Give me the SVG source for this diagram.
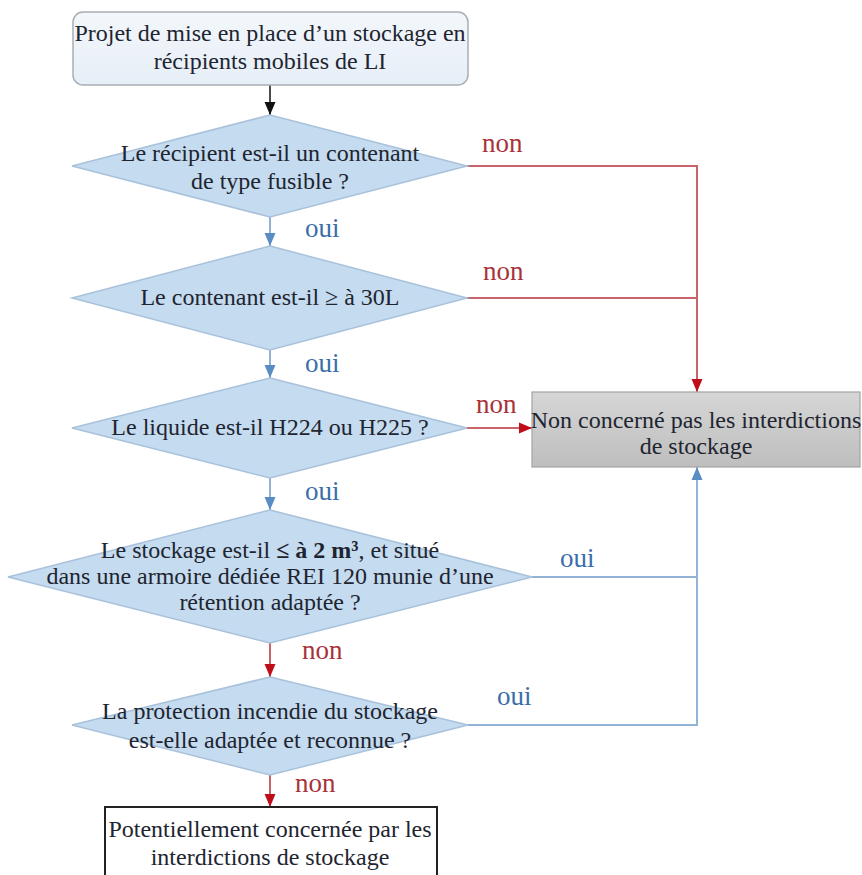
<svg xmlns="http://www.w3.org/2000/svg" width="862" height="875" viewBox="0 0 862 875">
<style>
  .t { font-family: "Liberation Serif", "Times New Roman", serif; font-size: 24px; fill: #1e2530; text-anchor: middle; }
  .lbl { font-family: "Liberation Serif", "Times New Roman", serif; font-size: 27px; }
  .non { fill: #a8323a; }
  .oui { fill: #3a6ea8; }
  .dia { fill: #c5dbef; stroke: #a8c2dc; stroke-width: 1.5; }
  .red { fill: none; stroke: #c9646a; stroke-width: 2; }
  .blue { fill: none; stroke: #92b3d6; stroke-width: 2; }
  .blk { fill: none; stroke: #111; stroke-width: 1.5; }
</style>
<defs>
  <linearGradient id="gTop" x1="0" y1="0" x2="0" y2="1">
    <stop offset="0" stop-color="#f3f7fb"/>
    <stop offset="1" stop-color="#e6eef7"/>
  </linearGradient>
  <linearGradient id="gGray" x1="0" y1="0" x2="0" y2="1">
    <stop offset="0" stop-color="#d6d6d6"/>
    <stop offset="1" stop-color="#bebebe"/>
  </linearGradient>
  <marker id="aBlk" markerUnits="userSpaceOnUse" markerWidth="14" markerHeight="14" viewBox="0 0 14 14" refX="13" refY="7" orient="auto">
    <path d="M0,1.5 L13,7 L0,12.5 Z" fill="#111"/>
  </marker>
  <marker id="aRed" markerUnits="userSpaceOnUse" markerWidth="14" markerHeight="14" viewBox="0 0 14 14" refX="13" refY="7" orient="auto">
    <path d="M0,1.5 L13,7 L0,12.5 Z" fill="#c00d1a"/>
  </marker>
  <marker id="aBlue" markerUnits="userSpaceOnUse" markerWidth="14" markerHeight="14" viewBox="0 0 14 14" refX="13" refY="7" orient="auto">
    <path d="M0,1.5 L13,7 L0,12.5 Z" fill="#5a8cc4"/>
  </marker>
</defs>

<g id="connectors">
  <line class="blk" x1="270" y1="85" x2="270" y2="115" marker-end="url(#aBlk)"/>
  <line class="blue" x1="270" y1="217" x2="270" y2="246" marker-end="url(#aBlue)"/>
  <line class="blue" x1="270" y1="350" x2="270" y2="378" marker-end="url(#aBlue)"/>
  <line class="blue" x1="270" y1="478" x2="270" y2="510" marker-end="url(#aBlue)"/>
  <line class="red" x1="270" y1="643" x2="270" y2="677" marker-end="url(#aRed)"/>
  <line class="red" x1="270" y1="775" x2="270" y2="807" marker-end="url(#aRed)"/>
  <polyline class="red" points="467,166 697,166 697,392" marker-end="url(#aRed)"/>
  <polyline class="red" points="467,298 697,298"/>
  <line class="red" x1="467" y1="428" x2="532" y2="428" marker-end="url(#aRed)"/>
  <polyline class="blue" points="532,577 697,577 697,467" marker-end="url(#aBlue)"/>
  <polyline class="blue" points="468,725 697,725 697,577"/>
  <text class="lbl non" x="482" y="152">non</text>
  <text class="lbl non" x="483" y="280">non</text>
  <text class="lbl non" x="476" y="413">non</text>
  <text class="lbl oui" x="305" y="237">oui</text>
  <text class="lbl oui" x="305" y="372">oui</text>
  <text class="lbl oui" x="305" y="500">oui</text>
  <text class="lbl non" x="302" y="659">non</text>
  <text class="lbl non" x="295" y="792">non</text>
  <text class="lbl oui" x="560" y="567">oui</text>
  <text class="lbl oui" x="497" y="705">oui</text>
</g>

<g id="start">
  <rect x="73" y="12" width="395" height="73" rx="10" fill="url(#gTop)" stroke="#a9aeb4" stroke-width="1.5"/>
  <text class="t" x="270" y="41">Projet de mise en place d’un stockage en</text>
  <text class="t" x="270" y="69">récipients mobiles de LI</text>
</g>

<g id="q1">
  <polygon class="dia" points="270,115 467,166 270,217 72,166"/>
  <text class="t" x="270" y="161">Le récipient est-il un contenant</text>
  <text class="t" x="270" y="189">de type fusible ?</text>
</g>

<g id="q2">
  <polygon class="dia" points="270,246 467,298 270,350 72,298"/>
  <text class="t" x="270" y="305">Le contenant est-il ≥ à 30L</text>
</g>

<g id="q3">
  <polygon class="dia" points="270,378 467,428 270,478 72,428"/>
  <text class="t" x="270" y="435">Le liquide est-il H224 ou H225 ?</text>
</g>

<g id="q4">
  <polygon class="dia" points="270,510 532,577 270,643 8,577"/>
  <text class="t" x="270" y="558">Le stockage est-il <tspan font-weight="bold">≤ à 2 m³</tspan>, et situé</text>
  <text class="t" x="270" y="584">dans une armoire dédiée REI 120 munie d’une</text>
  <text class="t" x="270" y="610">rétention adaptée  ?</text>
</g>

<g id="q5">
  <polygon class="dia" points="270,677 468,725 270,775 72,725"/>
  <text class="t" x="270" y="719">La protection incendie du stockage</text>
  <text class="t" x="270" y="748">est-elle adaptée et reconnue ?</text>
</g>

<g id="non-concerne">
  <rect x="532" y="392" width="328" height="75" fill="url(#gGray)" stroke="#a3a3a3" stroke-width="1.2"/>
  <text class="t" x="696" y="428">Non concerné pas les interdictions</text>
  <text class="t" x="696" y="454">de stockage</text>
</g>

<g id="potentiellement">
  <rect x="105" y="807" width="332" height="80" fill="#ffffff" stroke="#222" stroke-width="2"/>
  <text class="t" x="270" y="837">Potentiellement concernée par les</text>
  <text class="t" x="270" y="865">interdictions de stockage</text>
</g>
</svg>
